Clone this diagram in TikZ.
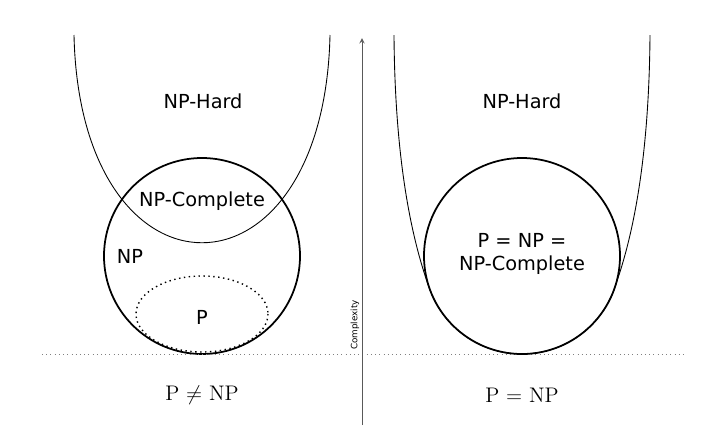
\documentclass[tikz,border=0pt]{standalone}
\usepackage{fontspec}
\setmainfont{DejaVu Sans}
\newfontfamily\lmr{Latin Modern Roman}
\tikzset{
  label/.style={font=\fontsize{11}{13}\selectfont, align=center},
  set/.style={draw=black, line width=1pt},
  hard/.style={draw=black, line width=0.5pt}
}
\begin{document}
\begin{tikzpicture}[x=0.02cm, y=-0.02cm]
\useasboundingbox (0,0) rectangle (714,427);

% left: P != NP
\draw[hard] (74,35) .. controls (80,312) and (324,312) .. (330,35);
\node (np) [set, circle, minimum size=196*0.02cm, inner sep=0pt] at (202,256) {};
\draw[dotted, line width=0.8pt] (202,314) ellipse [x radius=66, y radius=38];
\node (hardL) [label] at (203,101) {NP-Hard};
\node (complL) [label] at (202,201) {NP-Complete};
\node (npL) [label] at (130,256) {NP};
\node (pL) [label] at (202,317) {P};
\node (neq) [font=\lmr\large] at (202,395) {P $\neq$ NP};

% axis
\draw[dotted, gray] (42,354) -- (684,354);
\coordinate (axbot) at (362,425);
\coordinate (axtop) at (362,38);
\draw[->, >=stealth, gray!70!black] (axbot) -- (axtop);
\node (cplx) [rotate=90, font=\tiny] at (355,325) {Complexity};

% right: P = NP
\node (eq) [set, circle, minimum size=196*0.02cm, inner sep=0pt] at (522,256) {};
\draw[hard] (394,35) .. controls (395,170) and (414,246) .. (430,290)
  arc [start angle=159.7, end angle=20.3, radius=98]
  .. controls (630,246) and (649,170) .. (650,35);
\node (hardR) [label] at (522,101) {NP-Hard};
\node (allR) [label] at (522,254) {P = NP =\\NP-Complete};
\node (eqL) [font=\lmr\large] at (522,395) {P = NP};
\end{tikzpicture}
\end{document}
